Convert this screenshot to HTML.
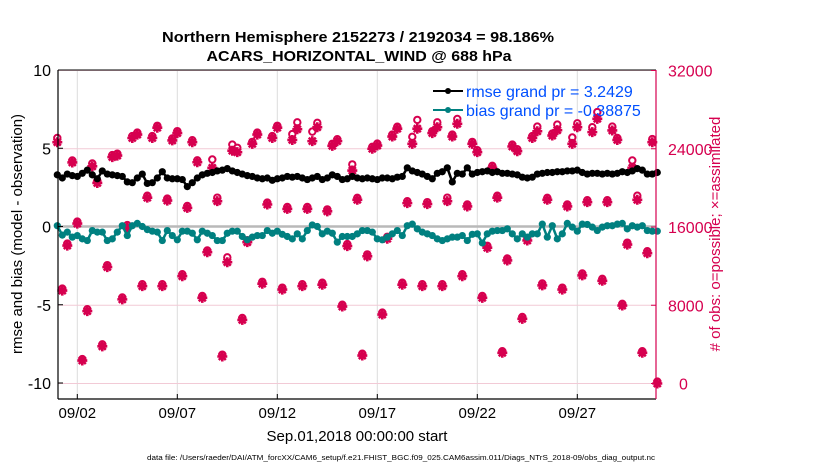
<!DOCTYPE html>
<html><head><meta charset="utf-8"><style>
html,body{margin:0;padding:0;background:#fff;}
svg{display:block;font-family:"Liberation Sans",sans-serif;}
</style></head><body>
<svg id="chart" width="830" height="470" viewBox="0 0 830 470" xmlns="http://www.w3.org/2000/svg">
<text x="358" y="42" text-anchor="middle" font-size="15" font-weight="bold" textLength="392" lengthAdjust="spacingAndGlyphs">Northern Hemisphere 2152273 / 2192034 = 98.186%</text>
<text x="359" y="61" text-anchor="middle" font-size="15" font-weight="bold" textLength="305" lengthAdjust="spacingAndGlyphs">ACARS_HORIZONTAL_WIND @ 688 hPa</text>
<g id="grid"></g>
<g id="marks"></g>
<g id="axes"></g>
<text transform="translate(22,234) rotate(-90)" text-anchor="middle" font-size="15">rmse and bias (model - observation)</text>
<text transform="translate(720,234) rotate(-90)" text-anchor="middle" font-size="15" fill="#d6004f"># of obs: o=possible; ×=assimilated</text>
<text x="357" y="441" text-anchor="middle" font-size="15">Sep.01,2018 00:00:00 start</text>
<text x="401" y="460" text-anchor="middle" font-size="7" textLength="508" lengthAdjust="spacingAndGlyphs">data file: /Users/raeder/DAI/ATM_forcXX/CAM6_setup/f.e21.FHIST_BGC.f09_025.CAM6assim.011/Diags_NTrS_2018-09/obs_diag_output.nc</text>
<g>
<line x1="433" y1="91" x2="463" y2="91" stroke="#000" stroke-width="2"/>
<circle cx="448" cy="91" r="3" fill="#000"/>
<text x="466" y="97" font-size="16" fill="#0050ff">rmse grand pr = 3.2429</text>
<line x1="433" y1="110" x2="463" y2="110" stroke="#008080" stroke-width="2"/>
<circle cx="448" cy="110" r="3" fill="#008080"/>
<text x="466" y="116" font-size="16" fill="#0050ff">bias grand pr = -0.38875</text>
</g>
</svg>
<script>
const xTickDays = [1, 6, 11, 16, 21, 26];
const xTickLabels = ["09/02", "09/07", "09/12", "09/17", "09/22", "09/27"];
const leftTicks = [-10, -5, 0, 5, 10];
const rightTicks = [0, 8000, 16000, 24000, 32000];
const rmse = [3.3,3.1,3.35,3.25,3.2,3.4,3.6,3.3,3.05,3.55,3.35,3.3,3.25,3.2,2.85,2.8,3.1,3.35,2.75,2.8,3.1,3.5,3.1,3.05,3.05,3.0,2.55,2.8,3.1,3.3,3.4,3.45,3.55,3.6,3.7,3.55,3.45,3.35,3.25,3.2,3.1,3.05,3.1,2.95,3.05,3.1,3.2,3.15,3.2,3.1,3.0,3.1,3.2,3.0,3.1,3.3,3.2,3.0,3.05,3.2,3.1,3.05,3.1,3.05,3.0,3.1,3.1,3.05,3.15,3.2,3.75,3.55,3.45,3.35,3.2,3.05,3.4,3.5,3.75,2.85,3.4,3.35,3.75,3.35,3.45,3.5,3.55,3.45,3.5,3.4,3.4,3.35,3.3,3.15,3.1,3.15,3.35,3.4,3.45,3.45,3.5,3.5,3.55,3.55,3.6,3.45,3.35,3.4,3.4,3.35,3.4,3.35,3.4,3.5,3.45,3.55,3.7,3.6,3.35,3.35,3.45];
const bias = [0.05,-0.55,-0.36,-0.68,-0.58,-0.79,-0.9,-0.26,-0.36,-0.36,-0.9,-0.79,-0.36,0.05,-0.58,0.05,0.2,0.0,-0.2,-0.3,-0.36,-0.9,-0.26,-0.58,-0.85,-0.3,-0.3,-0.43,-0.85,-0.3,-0.43,-0.58,-0.9,-0.9,-0.43,-0.3,-0.3,-0.64,-0.85,-0.68,-0.58,-0.58,-0.26,-0.43,-0.3,-0.5,-0.64,-0.79,-0.47,-0.79,-0.26,0.1,0.0,-0.47,-0.3,-0.43,-1.0,-0.64,-0.64,-0.64,-0.47,-0.26,-0.26,-0.36,-0.79,-0.85,-0.68,-0.47,-0.26,-0.58,0.05,0.15,-0.15,-0.36,-0.47,-0.58,-0.79,-0.9,-0.79,-0.68,-0.68,-0.58,-0.9,-0.5,-0.47,-1.05,-0.47,-0.3,-0.26,-0.26,-0.15,-0.47,-0.79,-0.47,-0.68,-0.47,-0.47,0.15,-0.68,0.05,-0.79,-0.47,0.2,-0.04,-0.3,0.15,0.13,-0.04,-0.26,-0.04,0.05,0.05,0.15,0.2,-0.15,0.05,-0.04,0.05,-0.26,-0.3,-0.3];
const assimilated = [24670,9500,14100,22600,16350,2350,7400,22200,20500,3800,11900,23150,23300,8600,16000,25100,25450,9950,19000,25100,26150,9950,18700,24850,25600,10970,17950,24670,22620,8760,13420,22050,18640,2760,12400,23800,23650,6500,14450,24500,25450,10200,18300,25100,26150,9600,17850,24900,26000,9950,17850,24780,26200,10100,17600,24300,24780,7870,14050,21770,18780,2860,13000,24000,24330,7050,14800,25250,26050,10100,18440,24500,26050,9950,18340,25600,26200,9950,18640,25250,26550,10970,18100,24500,23650,8760,13880,22050,19000,3140,12580,24230,23750,6610,14620,25100,25790,10030,18780,25350,25900,9600,18100,24500,26200,11050,18540,25700,27060,10500,18540,25870,24900,7970,14200,22050,18780,3140,13320,24670,0];
const possible = [25100,9700,14300,22800,16550,2500,7600,22500,20700,4000,12100,23350,23500,8800,16200,25300,25650,10150,19200,25300,26350,10150,18900,25050,25800,11170,18150,24870,22820,8950,13600,22900,19000,2950,12900,24430,24100,6700,14650,24700,25650,10400,18500,25300,26350,9800,18050,25500,26700,10150,18050,25750,26650,10300,17800,24500,24980,8050,14250,22400,18980,3050,13200,24200,24530,7250,15000,25450,26250,10300,18640,25220,26950,10150,18540,25800,26700,10150,19000,25450,27050,11170,18300,24700,23850,8950,14080,22250,19200,3300,12780,24430,23950,6800,14820,25300,26270,10230,18980,25550,26470,9800,18300,25150,26600,11250,18740,26200,27750,10700,18740,26270,25100,8150,14400,22800,19200,3300,13520,24990,200];

const NS = "http://www.w3.org/2000/svg";
const X0 = 58, X1 = 656, Y0 = 70, Y1 = 399;
const RED = "#d6004f";
function xs(i){ return 57.3 + (i * 0.25) * 20; }
function xDay(d){ return 57.3 + d * 20; }
function yl(v){ return 226.5 - v * 15.65; }
function yr(n){ return 383.5 - n / 32000 * 313; }
function mk(tag, attrs, parent){ const e = document.createElementNS(NS, tag); for (const k in attrs) e.setAttribute(k, attrs[k]); parent.appendChild(e); return e; }
const grid = document.getElementById('grid'), marks = document.getElementById('marks'), axes = document.getElementById('axes');

xTickDays.forEach((d) => {
  const l = mk('line', {x1:xDay(d), x2:xDay(d), y1:Y0, y2:Y1, stroke:'#dcdcdc', 'stroke-width':1}, grid);
  
  
});
rightTicks.forEach((n) => {
  const l = mk('line', {x1:X0, x2:X1, y1:yr(n), y2:yr(n), stroke:'#f2cad6', 'stroke-width':1}, grid);
  
  
});
const zl = mk('line', {x1:X0, x2:X1, y1:yl(0), y2:yl(0), stroke:'#b9b9b9', 'stroke-width':2.5}, grid);



function star(cx, cy, g){
  const s = 5;
  mk('path', {d:`M${cx-s},${cy}H${cx+s}M${cx},${cy-s}V${cy+s}M${cx-s*0.7},${cy-s*0.7}L${cx+s*0.7},${cy+s*0.7}M${cx-s*0.7},${cy+s*0.7}L${cx+s*0.7},${cy-s*0.7}`, stroke:RED, 'stroke-width':2.6, fill:'none'}, g);
  mk('circle', {cx:cx, cy:cy, r:2.8, fill:RED}, g);
}
const gPoss = mk('g', {}, marks);


possible.forEach((n, i) => {
  const c = mk('circle', {cx:xs(i), cy:yr(n), r:3.2, fill:'#fff', stroke:RED, 'stroke-width':2}, gPoss);
  
  
});
const gAss = mk('g', {}, marks);


assimilated.forEach((n, i) => { star(xs(i), yr(n), gAss); });

function series(vals, color, name){
  const g = mk('g', {}, marks);
  
  
  mk('polyline', {points: vals.map((v, i) => xs(i) + ',' + yl(v)).join(' '), fill:'none', stroke:color, 'stroke-width':2.5}, g);
  vals.forEach((v, i) => {
    const c = mk('circle', {cx:xs(i), cy:yl(v), r:3.6, fill:color}, g);
    
    
  });
}
series(rmse, '#000', 'rmse-series');
series(bias, '#008080', 'bias-series');

mk('line', {x1:X0, x2:X1, y1:Y0, y2:Y0, stroke:'#000', 'stroke-width':1}, axes);
mk('line', {x1:X0, x2:X1, y1:Y1, y2:Y1, stroke:'#000', 'stroke-width':1.2}, axes);
mk('line', {x1:X0, x2:X0, y1:Y0, y2:Y1, stroke:'#000', 'stroke-width':1.2}, axes);
mk('line', {x1:X1, x2:X1, y1:Y0, y2:Y1, stroke:RED, 'stroke-width':1.2}, axes);
xTickDays.forEach((d, k) => {
  mk('line', {x1:xDay(d), x2:xDay(d), y1:Y1, y2:Y1-5, stroke:'#000'}, axes);
  const t = mk('text', {x:xDay(d), y:418, 'text-anchor':'middle', 'font-size':15}, axes);
  t.textContent = xTickLabels[k];
  
  
});
leftTicks.forEach((v) => {
  mk('line', {x1:X0, x2:X0+5, y1:yl(v), y2:yl(v), stroke:'#000'}, axes);
  const t = mk('text', {x:51, y:yl(v)+6, 'text-anchor':'end', 'font-size':16}, axes);
  t.textContent = String(v);
  
  
});
rightTicks.forEach((n) => {
  mk('line', {x1:X1, x2:X1-5, y1:yr(n), y2:yr(n), stroke:RED}, axes);
  const t = mk('text', {x:n === 0 ? 679 : 668, y:yr(n)+6, 'font-size':16, fill:RED}, axes);
  t.textContent = String(n);
  
  
});
</script>
</body></html>
